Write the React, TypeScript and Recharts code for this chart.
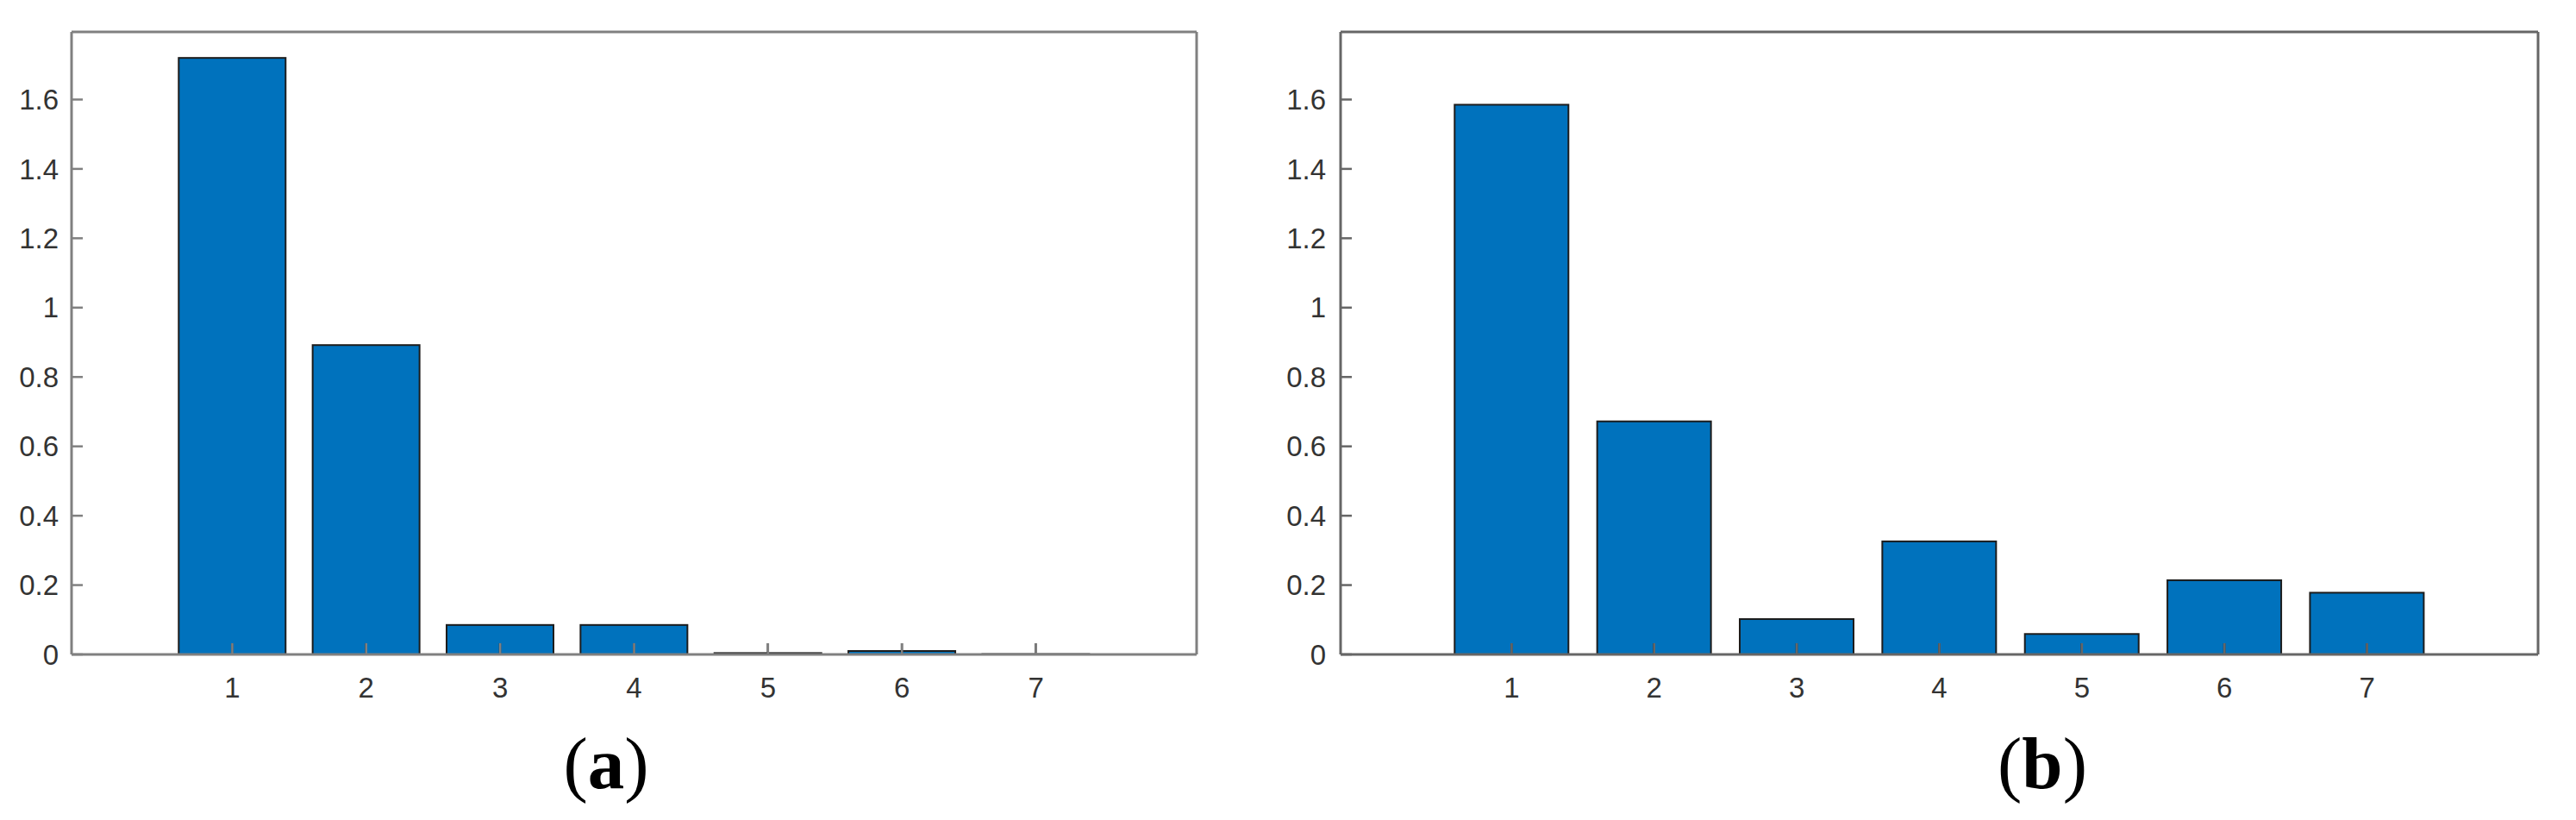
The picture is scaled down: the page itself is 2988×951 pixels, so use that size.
import React from 'react';
import { BarChart, Bar, XAxis, YAxis } from 'recharts';

// ---- data ----
const categories = [1, 2, 3, 4, 5, 6, 7];
const seriesA = [1.72, 0.892, 0.085, 0.085, 0.004, 0.01, 0.001];
const seriesB = [1.585, 0.672, 0.102, 0.326, 0.059, 0.214, 0.178];
const yTicks = [0, 0.2, 0.4, 0.6, 0.8, 1, 1.2, 1.4, 1.6];
const xTicks = [1, 2, 3, 4, 5, 6, 7];
const xDomain: [number, number] = [-0.2, 8.2];
const yDomain: [number, number] = [0, 1.795];
const captionLetters = ['a', 'b'];

const FONT = '"Liberation Sans", Arial, Helvetica, sans-serif';
const TICK_FONT = { fontSize: 33, fill: '#333', fontFamily: FONT };
const TICK_LEN = 13;

type PanelProps = {
  values: number[];
  left: number;
  width: number;
  yLeftWidth: number;
  yRightWidth: number;
  yTickMargin: number;
  axisColor: string;
};

function BarWithTick(props: any) {
  const { x, y, width, height } = props;
  if (width == null || height == null) return null;
  const cx = x + width / 2;
  const bottom = y + height;
  return (
    <g>
      <rect x={x} y={y} width={width} height={height} fill="#0072BD" stroke="#1c1c1c" strokeWidth={2} />
      <line x1={cx} x2={cx} y1={bottom} y2={bottom - Math.min(TICK_LEN, Math.max(height, 0) + TICK_LEN)} stroke="#2a2a2a" strokeWidth={2.5} />
    </g>
  );
}

function Panel({ values, left, width, yLeftWidth, yRightWidth, yTickMargin, axisColor }: PanelProps) {
  const data = categories.map((c, i) => ({ x: c, v: values[i] }));
  const axisLine = { stroke: axisColor, strokeWidth: 3 };
  const tickLine = { stroke: axisColor, strokeWidth: 2.5 };
  return (
    <div style={{ position: 'absolute', left, top: 0 }}>
      <BarChart
        width={width}
        height={951}
        data={data}
        margin={{ top: 0, right: 0, bottom: 0, left: 0 }}
        barCategoryGap="10%"
      >
        <XAxis
          xAxisId="b"
          dataKey="x"
          type="number"
          orientation="bottom"
          domain={xDomain}
          ticks={xTicks}
          allowDecimals={false}
          height={192}
          tickSize={-TICK_LEN}
          tickMargin={40}
          axisLine={axisLine}
          tickLine={tickLine}
          tick={TICK_FONT}
          interval={0}
        />
        <XAxis
          xAxisId="t"
          dataKey="x"
          type="number"
          orientation="top"
          domain={xDomain}
          ticks={xTicks}
          height={37}
          tickSize={-TICK_LEN}
          axisLine={axisLine}
          tickLine={tickLine}
          tick={false}
          interval={0}
        />
        <YAxis
          yAxisId="l"
          type="number"
          orientation="left"
          domain={yDomain}
          ticks={yTicks}
          width={yLeftWidth}
          tickSize={-TICK_LEN}
          tickMargin={yTickMargin}
          axisLine={axisLine}
          tickLine={tickLine}
          tick={TICK_FONT}
          interval={0}
        />
        <YAxis
          yAxisId="r"
          type="number"
          orientation="right"
          domain={yDomain}
          ticks={yTicks}
          width={yRightWidth}
          tickSize={-TICK_LEN}
          axisLine={axisLine}
          tickLine={tickLine}
          tick={false}
          interval={0}
        />
        <Bar
          dataKey="v"
          xAxisId="b"
          yAxisId="l"
          fill="#0072BD"
          stroke="#1c1c1c"
          strokeWidth={2}
          shape={BarWithTick}
          isAnimationActive={false}
        />
      </BarChart>
    </div>
  );
}

export default function App() {
  const captionX = [703, 2369];
  return (
    <div style={{ position: 'absolute', left: 0, top: 0, width: 2988, height: 951, background: '#fff' }}>
      <Panel values={seriesA} left={0} width={1440} yLeftWidth={83} yRightWidth={52} yTickMargin={28} axisColor="#808080" />
      <Panel values={seriesB} left={1450} width={1538} yLeftWidth={105} yRightWidth={44} yTickMargin={30} axisColor="#666666" />
      <svg width={2988} height={951} style={{ position: 'absolute', left: 0, top: 0, pointerEvents: 'none' }}>
        {captionLetters.map((l, i) => (
          <text
            key={l}
            x={captionX[i]}
            y={914}
            textAnchor="middle"
            fontFamily='"Liberation Serif", "Times New Roman", serif'
            fontSize={85}
            fill="#000"
          >
            <tspan>(</tspan>
            <tspan fontWeight="bold">{l}</tspan>
            <tspan>)</tspan>
          </text>
        ))}
      </svg>
    </div>
  );
}
